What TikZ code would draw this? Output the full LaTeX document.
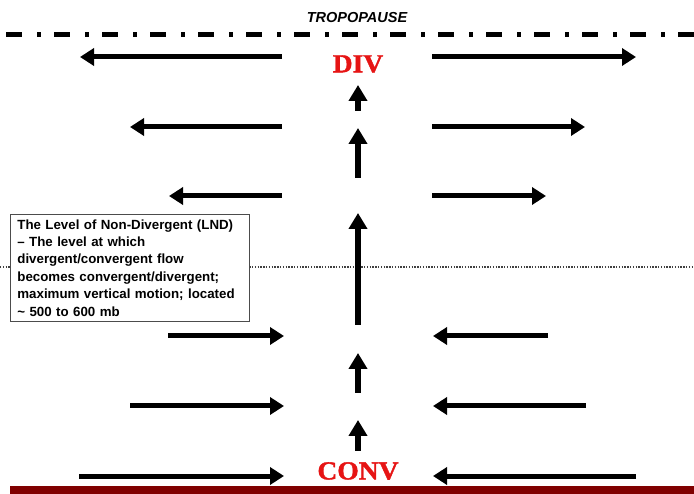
\documentclass[tikz,border=0pt]{standalone}
\usepackage{fontspec}
\setmainfont{Liberation Serif}
\setsansfont{Liberation Sans}
\newfontfamily\heavyserif[FakeBold=1.5,FakeStretch=1.06]{Liberation Serif Bold}
\usetikzlibrary{arrows.meta}
\definecolor{divred}{RGB}{230,20,20}
\definecolor{barred}{RGB}{128,0,0}
\begin{document}
\begin{tikzpicture}[x=1pt,y=-1pt,
  flow/.style={line width=5pt,-{Triangle[length=14pt,width=17pt]}},
  upflow/.style={line width=6pt,-{Triangle[length=16pt,width=18pt]}},
  bigword/.style={text=divred,font=\heavyserif\fontsize{26}{28}\selectfont,inner sep=1pt},
  infobox/.style={draw=black!70,line width=0.8pt,fill=white,align=left,anchor=north west,
    text width=225pt,inner xsep=7pt,inner ysep=5pt,font=\sffamily\bfseries\fontsize{13.3}{17.4}\selectfont}]
\useasboundingbox (0,0) rectangle (694,494);
% tropopause
\node[font=\sffamily\bfseries\itshape\fontsize{14.5}{16}\selectfont] (trop) at (357,18) {TROPOPAUSE};
\coordinate (tl) at (0,35); \coordinate (tr) at (694,35);
\draw[line width=5pt,dash pattern=on 16pt off 15pt on 4pt off 13pt,dash phase=-6pt] (tl) -- (tr);
% LND dotted line
\coordinate (ll) at (0,267); \coordinate (lr) at (694,267);
\draw[line width=1.3pt,black!75,dash pattern=on 1.3pt off 1.5pt] (ll) -- (lr);
% bottom bar
\fill[barred] (10,486) rectangle (694,494);
% labels
\node[bigword] (div) at (358,64) {DIV};
\node[bigword] (conv) at (358,471) {CONV};
% outflow arrows (divergence)
\coordinate (a1s) at (282,57); \coordinate (a1e) at (80,57);
\coordinate (b1s) at (432,57); \coordinate (b1e) at (636,57);
\coordinate (a2s) at (282,127); \coordinate (a2e) at (130,127);
\coordinate (b2s) at (432,127); \coordinate (b2e) at (585,127);
\coordinate (a3s) at (282,196); \coordinate (a3e) at (169,196);
\coordinate (b3s) at (432,196); \coordinate (b3e) at (546,196);
\draw[flow] (a1s) -- (a1e); \draw[flow] (b1s) -- (b1e);
\draw[flow] (a2s) -- (a2e); \draw[flow] (b2s) -- (b2e);
\draw[flow] (a3s) -- (a3e); \draw[flow] (b3s) -- (b3e);
% inflow arrows (convergence)
\coordinate (c4s) at (168,336); \coordinate (c4e) at (284,336);
\coordinate (d4s) at (548,336); \coordinate (d4e) at (433,336);
\coordinate (c5s) at (130,406); \coordinate (c5e) at (284,406);
\coordinate (d5s) at (586,406); \coordinate (d5e) at (433,406);
\coordinate (c6s) at (79,476); \coordinate (c6e) at (284,476);
\coordinate (d6s) at (636,476); \coordinate (d6e) at (433,476);
\draw[flow] (c4s) -- (c4e); \draw[flow] (d4s) -- (d4e);
\draw[flow] (c5s) -- (c5e); \draw[flow] (d5s) -- (d5e);
\draw[flow] (c6s) -- (c6e); \draw[flow] (d6s) -- (d6e);
% vertical arrows
\coordinate (v1s) at (358,111); \coordinate (v1e) at (358,85);
\coordinate (v2s) at (358,178); \coordinate (v2e) at (358,128);
\coordinate (v3s) at (358,325); \coordinate (v3e) at (358,213);
\coordinate (v4s) at (358,393); \coordinate (v4e) at (358,353);
\coordinate (v5s) at (358,451); \coordinate (v5e) at (358,420);
\draw[upflow] (v1s) -- (v1e);
\draw[upflow] (v2s) -- (v2e);
\draw[upflow] (v3s) -- (v3e);
\draw[upflow] (v4s) -- (v4e);
\draw[upflow] (v5s) -- (v5e);
% info box
\node[infobox] (lnd) at (10,214) {The Level of Non-Divergent (LND)\\ -- The level at which\\ divergent/convergent flow\\ becomes convergent/divergent;\\ maximum vertical motion; located\\ \textasciitilde\ 500 to 600 mb};
\end{tikzpicture}
\end{document}
